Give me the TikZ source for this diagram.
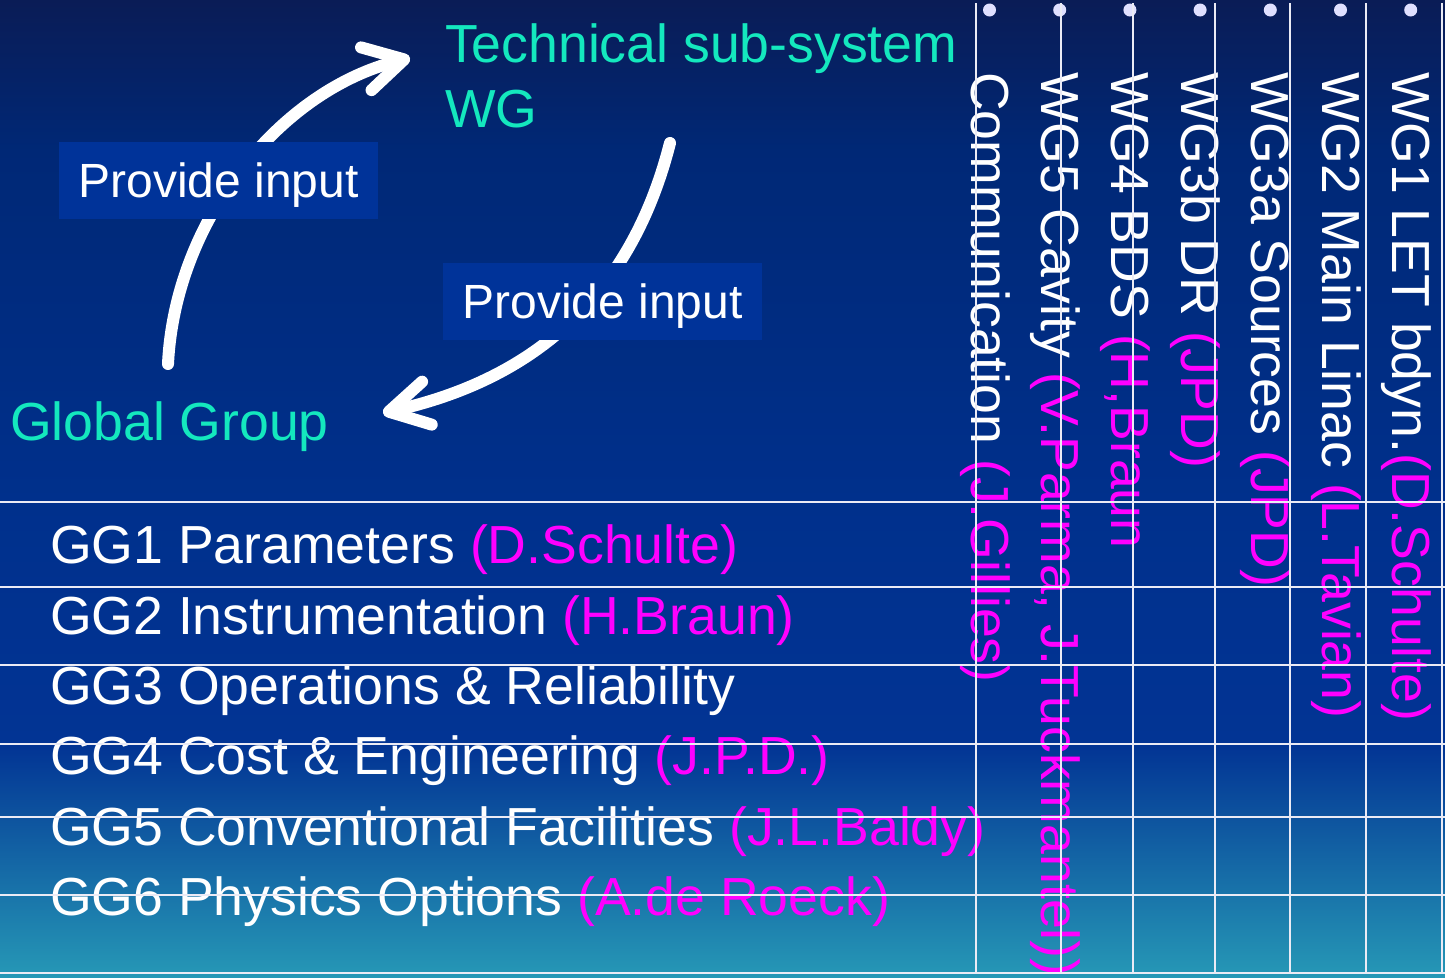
\documentclass[tikz,border=0pt]{standalone}
\usepackage{fontspec}
\setmainfont{Liberation Sans}
\usetikzlibrary{arrows.meta}
\definecolor{bgA}{RGB}{10,28,86}
\definecolor{bgB}{RGB}{0,40,118}
\definecolor{bgC}{RGB}{0,48,140}
\definecolor{bgD}{RGB}{2,52,148}
\definecolor{bgE}{RGB}{38,152,182}
\definecolor{aqua}{RGB}{20,232,190}
\definecolor{mag}{RGB}{255,0,255}
\definecolor{boxblue}{RGB}{0,51,153}
\definecolor{bulletc}{RGB}{224,224,255}
\definecolor{gridc}{RGB}{235,235,245}
\begin{document}
\begin{tikzpicture}[x=1pt,y=-1pt,
  big/.style={font=\fontsize{53.6}{65}\selectfont, inner sep=0pt, outer sep=0pt},
  gg/.style={big, text=white, anchor=base west},
  vtext/.style={big, text=white, rotate=-90, anchor=base west},
  head/.style={big, text=aqua, anchor=base west, align=left},
  inbox/.style={fill=boxblue, text=white, font=\fontsize{48}{58}\selectfont,
     inner sep=0pt, minimum width=319pt, minimum height=77pt,
     text height=34.4pt, text depth=0pt},
  arr/.style={white, line width=12pt, line cap=round,
     -{Straight Barb[length=39pt, width=44pt, round]}},
  gridline/.style={gridc, line width=2pt},
  bullet/.style={circle, fill=bulletc, inner sep=0pt, minimum size=13pt}]
\useasboundingbox (0,0) rectangle (1445,977);
% background
\fill[top color=bgA, bottom color=bgB] (0,0) rectangle (1445,150.5);
\fill[top color=bgB, bottom color=bgC] (0,150) rectangle (1445,500.5);
\fill[top color=bgC, bottom color=bgD] (0,500) rectangle (1445,745.5);
\fill[top color=bgD, bottom color=bgE] (0,745) rectangle (1445,977);

% headings
\node[head] (tech) at (445,127) {Technical sub-system\\WG};
\node[head] (global) at (10,440) {Global Group};

% arrows
\coordinate (a1s) at (168,364);
\coordinate (a1e) at (410,58);
\coordinate (a2s) at (670,143);
\coordinate (a2e) at (383,413);
\draw[arr] (a1s) .. controls (175,220) and (280,90) .. (a1e);
\draw[arr] (a2s) .. controls (630,300) and (530,380) .. (a2e);

\node[inbox] (p1) at (218.5,180.5) {Provide input};
\node[inbox] (p2) at (602.5,301.5) {Provide input};

% GG rows
\node[gg] (gg1) at (50,563) {GG1 Parameters \textcolor{mag}{(D.Schulte)}};
\node[gg] (gg2) at (50,634) {GG2 Instrumentation \textcolor{mag}{(H.Braun)}};
\node[gg] (gg3) at (50,704) {GG3 Operations \& Reliability};
\node[gg] (gg4) at (50,774) {GG4 Cost \& Engineering \textcolor{mag}{(J.P.D.)}};
\node[gg] (gg5) at (50,845) {GG5 Conventional Facilities \textcolor{mag}{(J.L.Baldy)}};
\node[gg] (gg6) at (50,915) {GG6 Physics Options \textcolor{mag}{(A.de Roeck)}};

% WG columns
\node[vtext] (c0) at (971,72) {Communication \textcolor{mag}{(J.Gillies)}};
\node[vtext] (c1) at (1041.2,72) {WG5 Cavity \textcolor{mag}{(V.Parma, J.Tuckmantel))}};
\node[vtext] (c2) at (1111.4,72) {WG4 BDS \textcolor{mag}{(H,Braun}};
\node[vtext] (c3) at (1181.6,72) {WG3b DR \textcolor{mag}{(JPD)}};
\node[vtext] (c4) at (1251.8,72) {WG3a Sources \textcolor{mag}{(JPD)}};
\node[vtext] (c5) at (1322,72) {WG2 Main Linac \textcolor{mag}{(L.Tavian)}};
\node[vtext] (c6) at (1392.2,72) {WG1 LET bdyn.\textcolor{mag}{(D.Schulte)}};

% bullets
\foreach \i in {0,...,6} {
  \node[bullet] (b\i) at ({989.5+70.2*\i},10) {};
}

% grid
\foreach \y in {501.5,586.5,664.5,743.5,816.5,894.5,972.5}
  \draw[gridline] (0,\y) -- (1445,\y);
\foreach \x in {976,1061,1133,1215,1290,1366,1442}
  \draw[gridline] (\x,3) -- (\x,973);
\end{tikzpicture}
\end{document}
